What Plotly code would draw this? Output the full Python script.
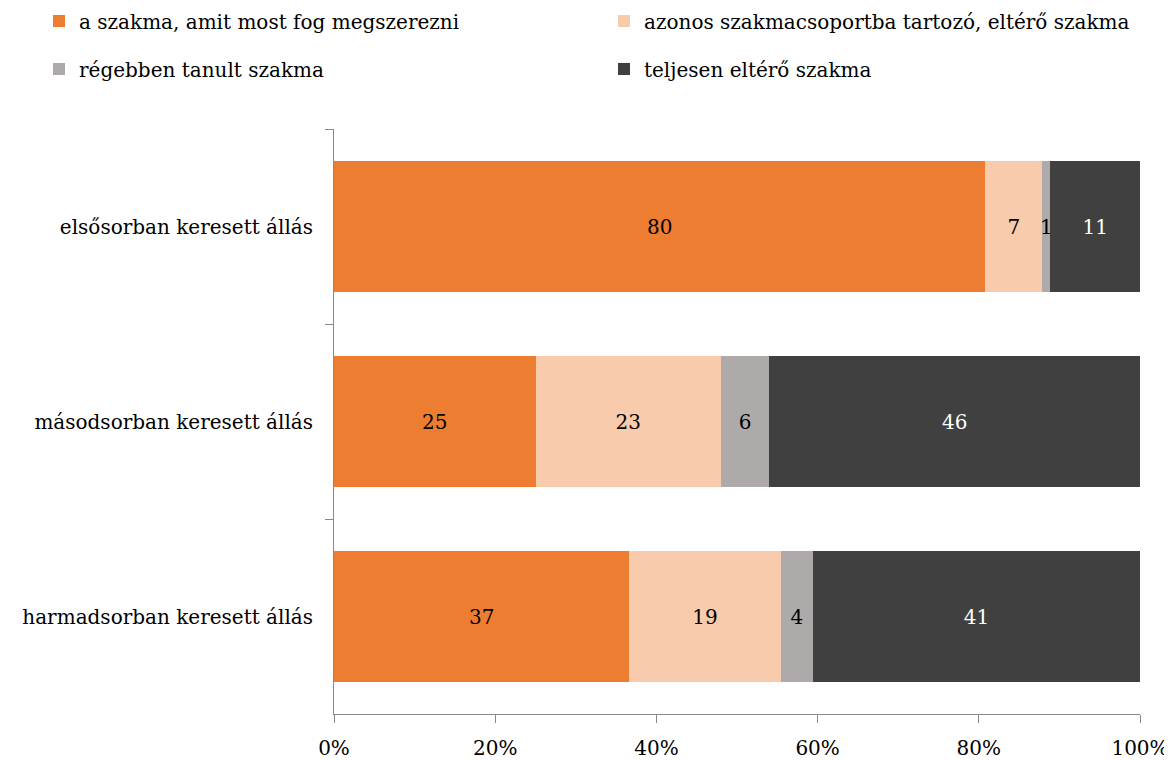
import plotly.graph_objects as go

categories = ["elsősorban keresett állás", "másodsorban keresett állás", "harmadsorban keresett állás"]
series_names = ["a szakma, amit most fog megszerezni",
                "azonos szakmacsoportba tartozó, eltérő szakma",
                "régebben tanult szakma",
                "teljesen eltérő szakma"]
s1 = [80, 25, 37]
s2 = [7, 23, 19]
s3 = [1, 6, 4]
s4 = [11, 46, 41]
tick_vals = [0, 20, 40, 60, 80, 100]
tick_text = ["0%", "20%", "40%", "60%", "80%", "100%"]

colors = ["#ED7D31", "#F8CBAD", "#AEAAAA", "#404040"]
text_colors = ["#000000", "#000000", "#000000", "#FFFFFF"]
legends = ["legend", "legend2", "legend3", "legend4"]
# legend positions in container pixels (left of entry, vertical center)
leg_pos = [(31, 13), (596, 13), (31, 61), (596, 61)]

W, H = 1172, 760
FONT = "DejaVu Serif"
FS = 20
fig = go.Figure()
for name, vals, c, tc, lg in zip(series_names, [s1, s2, s3, s4], colors, text_colors, legends):
    fig.add_trace(go.Bar(
        y=categories, x=vals, name=name, orientation="h",
        marker=dict(color=c, line=dict(width=0)),
        text=vals, texttemplate="%{text}", textposition="inside",
        insidetextanchor="middle", constraintext="none",
        textfont=dict(color=tc, size=FS, family=FONT),
        legend=lg, hoverinfo="skip",
    ))

legend_layout = {}
for lg, (px, py) in zip(legends, leg_pos):
    legend_layout[lg] = dict(
        orientation="h", xref="container", yref="container",
        x=px / W, y=1 - py / H, xanchor="left", yanchor="middle",
        font=dict(size=FS, family=FONT, color="#000"),
        bgcolor="rgba(0,0,0,0)", itemclick=False, itemdoubleclick=False,
    )

fig.update_layout(
    width=W, height=H,
    barmode="stack", barnorm="percent", bargap=0.333,
    paper_bgcolor="white", plot_bgcolor="white",
    margin=dict(l=326, r=40, t=121, b=54, autoexpand=False),
    font=dict(family=FONT, size=FS, color="#000"),
    uniformtext=dict(minsize=FS, mode="show"),
    showlegend=True,
    xaxis=dict(range=[0, 100], tickvals=tick_vals, ticktext=tick_text, automargin=False,
               showgrid=False, zeroline=False, showline=True, linecolor="#898989",
               linewidth=1, ticks="outside", ticklen=8, tickcolor="#898989",
               ticklabelstandoff=8,
               tickfont=dict(size=FS, family=FONT, color="#000")),
    yaxis=dict(autorange="reversed", showgrid=False, zeroline=False, showline=True,
               automargin=False,
               linecolor="#898989", linewidth=1, ticks="outside", ticklen=8,
               tickcolor="#898989", tickson="boundaries",
               tickfont=dict(size=FS, family=FONT, color="#000"), ticklabelstandoff=16),
    **legend_layout,
)

fig.write_html("out.html")
